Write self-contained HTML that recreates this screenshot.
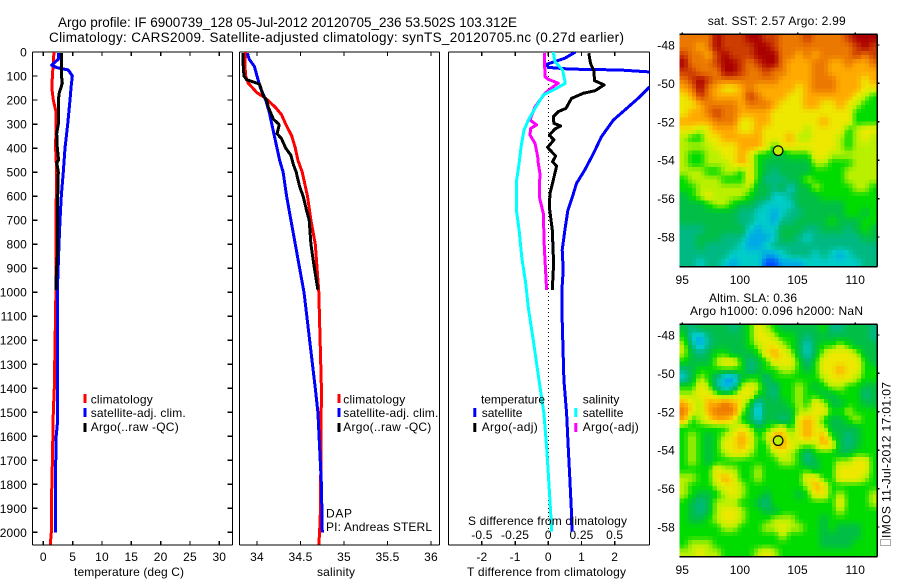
<!DOCTYPE html>
<html lang="en">
<head>
<meta charset="utf-8">
<title>Argo profile 6900739_128</title>
<style>
html,body{margin:0;padding:0;background:#fff;}
svg{display:block;}
text{font-family:"Liberation Sans",sans-serif;font-size:12px;fill:#000;letter-spacing:.15px;}
.t14{font-size:13.5px;letter-spacing:0;}
.lab{letter-spacing:0;}
</style>
</head>
<body>
<svg id="chart" xmlns="http://www.w3.org/2000/svg" width="900" height="580" viewBox="0 0 900 580">
  <defs>
    <clipPath id="clip1"><rect x="32.5" y="52" width="200" height="493"/></clipPath>
    <clipPath id="clip2"><rect x="239.5" y="52" width="200" height="493"/></clipPath>
    <clipPath id="clip3"><rect x="448.5" y="52" width="201" height="493"/></clipPath>
  </defs>

  <text class="t14" x="58" y="27" textLength="459" lengthAdjust="spacing">Argo profile: IF 6900739_128 05-Jul-2012 20120705_236 53.502S 103.312E</text>
  <text class="t14" x="49" y="42" textLength="575" lengthAdjust="spacing">Climatology: CARS2009. Satellite-adjusted climatology: synTS_20120705.nc (0.27d earlier)</text>

  <g id="map1"></g>
  <g id="map2"></g>
  <g id="axes"></g>
  <g id="series1" clip-path="url(#clip1)"></g>
  <g id="series2" clip-path="url(#clip2)"></g>
  <g id="series3" clip-path="url(#clip3)"></g>

  <text class="lab" x="74" y="576" textLength="110" lengthAdjust="spacing">temperature (deg C)</text>
  <text class="lab" x="317" y="576" textLength="38" lengthAdjust="spacing">salinity</text>
  <text class="lab" x="467" y="576" textLength="159" lengthAdjust="spacing">T difference from climatology</text>
  <text class="lab" x="468" y="525" textLength="159" lengthAdjust="spacing">S difference from climatology</text>

  <g>
    <rect x="83.5" y="394" width="3" height="9" fill="#f00"/>
    <rect x="83.5" y="408" width="3" height="9" fill="#00f"/>
    <rect x="83.5" y="423" width="3" height="9" fill="#000"/>
    <text class="lab" x="90.7" y="403.5" textLength="62" lengthAdjust="spacing">climatology</text>
    <text class="lab" x="90.7" y="417" textLength="95" lengthAdjust="spacing">satellite-adj. clim.</text>
    <text class="lab" x="90.7" y="431" textLength="88" lengthAdjust="spacing">Argo(..raw -QC)</text>
  </g>
  <g>
    <rect x="337.5" y="394" width="3" height="9" fill="#f00"/>
    <rect x="337.5" y="408" width="3" height="9" fill="#00f"/>
    <rect x="337.5" y="423" width="3" height="9" fill="#000"/>
    <text class="lab" x="343.3" y="403.5" textLength="62" lengthAdjust="spacing">climatology</text>
    <text class="lab" x="343.3" y="417" textLength="95" lengthAdjust="spacing">satellite-adj. clim.</text>
    <text class="lab" x="343.3" y="431" textLength="88" lengthAdjust="spacing">Argo(..raw -QC)</text>
  </g>
  <text class="lab" x="326" y="517.5" textLength="26" lengthAdjust="spacing">DAP</text>
  <text class="lab" x="326" y="531" textLength="106" lengthAdjust="spacing">PI: Andreas STERL</text>

  <g>
    <text class="lab" x="481" y="403.5" textLength="64" lengthAdjust="spacing">temperature</text>
    <rect x="473.3" y="408" width="3" height="9" fill="#00f"/>
    <text class="lab" x="481.7" y="417">satellite</text>
    <rect x="473.3" y="423" width="3" height="9" fill="#000"/>
    <text class="lab" x="481.7" y="431" textLength="56" lengthAdjust="spacing">Argo(-adj)</text>
    <text class="lab" x="582.7" y="403.5">salinity</text>
    <rect x="574.3" y="408" width="3" height="9" fill="#0ff"/>
    <text class="lab" x="582.7" y="417">satellite</text>
    <rect x="574.3" y="423" width="3" height="9" fill="#f0f"/>
    <text class="lab" x="582.7" y="431" textLength="56" lengthAdjust="spacing">Argo(-adj)</text>
  </g>

  <text class="lab" x="707.7" y="25" textLength="138" lengthAdjust="spacing">sat. SST: 2.57 Argo: 2.99</text>
  <text class="lab" x="709" y="302" textLength="88" lengthAdjust="spacing">Altim. SLA: 0.36</text>
  <text class="lab" x="690" y="315" textLength="173" lengthAdjust="spacing">Argo h1000: 0.096 h2000: NaN</text>

  <rect x="880.5" y="539.5" width="10" height="6" fill="none" stroke="#555" stroke-width="1" stroke-dasharray="1 1" shape-rendering="crispEdges"/>
  <text class="lab" transform="translate(890.5 538) rotate(-90)" x="0" y="0" textLength="156" lengthAdjust="spacing">IMOS 11-Jul-2012 17:01:07</text>
</svg>
<script>
/* ---------- tick data ---------- */
var depthTicks = [0,100,200,300,400,500,600,700,800,900,1000,1100,1200,1300,1400,1500,1600,1700,1800,1900,2000];
var tempTicks = [0,5,10,15,20,25,30];
var salTicks = [34,34.5,35,35.5,36];
var salTickLabels = ['34','34.5','35','35.5','36'];
var tDiffTicks = [-2,-1,0,1,2];
var sDiffTicks = [-0.5,-0.25,0,0.25,0.5];
var sDiffTickLabels = ['-0.5','-0.25','0','0.25','0.5'];
var lonTicks = [95,100,105,110];
var latTicks = [-48,-50,-52,-54,-56,-58];

/* ---------- temperature profiles ---------- */
var climDepth = [0,100,150,200,250,300,400,500,700,1000,1400,1500,1700,1900,2000,2050];
var climTemp = [1.82,1.55,1.45,1.7,2.16,2.16,2.1,2.28,2.15,2.15,1.88,1.7,1.55,1.37,1.37,1.2];
var satTempDepth = [5,30,55,65,75,100,150,200,300,400,500,600,700,800,1000,1400,1550,1600,1800,2000];
var satTemp = [2.56,2.56,1.43,2.28,4.26,4.94,4.72,4.55,4.16,3.7,3.41,3.07,2.85,2.68,2.39,2.39,2.39,2.2,2.05,2.05];
var argoTempDepth = [5,100,130,170,200,300,340,400,450,460,500,600,800,850,950,990];
var argoTemp = [3.13,3.1,3.24,2.73,2.56,2.56,2.28,2.39,2.6,2.28,2.56,2.45,2.45,2.39,2.16,2.16];

/* ---------- salinity profiles ---------- */
var climSalDepth = [0,50,100,130,170,190,230,260,300,350,400,450,500,600,700,800,1000,1400,1900,2000,2050];
var climSal = [33.87,33.86,33.87,33.9,34,34.09,34.21,34.28,34.33,34.4,34.44,34.47,34.52,34.58,34.62,34.67,34.71,34.74,34.73,34.72,34.71];
var satSalDepth = [5,30,60,100,150,200,250,300,350,400,450,500,600,700,800,900,1000,1400,1500,1800,2000];
var satSal = [33.89,33.91,33.97,34,34.04,34.1,34.14,34.17,34.2,34.23,34.26,34.3,34.34,34.39,34.44,34.49,34.54,34.67,34.7,34.74,34.75];
var argoSalDepth = [5,50,100,115,130,135,180,200,230,280,300,310,340,360,400,430,470,500,560,600,660,700,800,900,990];
var argoSal = [33.84,33.84,33.85,33.88,34,34.03,34.07,34.11,34.13,34.19,34.25,34.25,34.23,34.28,34.33,34.39,34.42,34.45,34.49,34.53,34.57,34.6,34.62,34.66,34.7];

/* ---------- difference profiles ---------- */
var satDiffTDepth = [0,26,40,51,64,71,75,83,100,130,147,186,235,283,353,422,491,547,602,658,741,824,908,991,1074,1366,1504,1643,1782,1920,1997];
var satDiffT = [0.82,0.5,0.2,-0.05,0,0.65,2.16,3.04,4.5,3.6,3.04,2.76,2.36,1.96,1.6,1.36,1.1,0.85,0.73,0.59,0.5,0.42,0.45,0.41,0.41,0.47,0.55,0.6,0.65,0.7,0.71];
var argoDiffTDepth = [5,47,82,119,137,161,172,193,235,248,269,297,308,321,346,366,397,433,457,475,533,589,644,741,880,991];
var argoDiffT = [1.22,1.27,1.38,1.39,1.68,1.41,1.05,0.7,0.53,0.3,0.15,0.17,0.37,0.2,0.03,0.17,-0.02,0.22,0.13,0.25,0.15,0.05,0.03,0.12,0.16,0.12];
var satDiffSDepth = [0,40,75,130,151,179,235,283,325,394,464,540,658,741,852,963,1067,1200,1366,1504,1643,1782,1920,1997];
var satDiffS = [0.038,0.05,0.108,0.128,0.063,-0.038,-0.1,-0.15,-0.183,-0.205,-0.22,-0.24,-0.24,-0.22,-0.2,-0.17,-0.15,-0.113,-0.07,-0.033,-0.013,0.003,0.018,0.025];
var argoDiffSDepth = [5,103,114,130,144,172,228,283,304,318,346,380,436,464,505,602,672,811,991];
var argoDiffS = [-0.03,-0.025,0,0.075,0.038,-0.025,-0.1,-0.138,-0.088,-0.133,-0.138,-0.1,-0.08,-0.075,-0.063,-0.068,-0.038,-0.03,-0.013];

/* ---------- map data (colour-level per cell, north to south) ---------- */
var sstLevels = [
[9,9,9,9,11,10,10,10,11,11,10,10,9,9,9,10,9,9,9,9,10,11,11,11],
[9,9,8,9,11,10,10,10,10,11,11,10,9,9,9,9,9,9,9,9,9,10,11,10],
[10,9,9,8,10,11,10,10,10,11,11,11,9,9,8,9,8,9,9,9,9,10,9,10],
[11,9,9,9,10,11,11,10,9,10,11,11,9,8,8,8,9,9,8,8,9,8,8,9],
[10,10,9,9,9,11,11,10,9,9,10,9,9,8,8,8,9,9,8,8,8,8,8,8],
[9,10,11,10,9,9,9,9,9,9,9,9,8,8,8,8,9,9,9,8,8,8,7,8],
[8,9,11,9,8,7,7,8,9,8,8,8,8,8,7,8,9,9,9,8,8,8,7,7],
[7,8,10,9,8,8,8,8,10,9,8,8,8,7,7,8,8,8,8,8,8,7,6,5],
[7,7,8,9,9,9,9,8,9,9,9,8,7,7,7,8,8,7,7,8,7,6,5,5],
[7,8,8,9,10,9,9,8,8,8,8,7,7,7,7,7,7,7,7,7,7,5,5,5],
[8,8,8,8,9,9,9,7,7,8,8,7,7,7,7,7,7,8,7,7,7,5,5,5],
[7,7,6,7,8,8,8,7,7,8,7,7,7,7,7,6,7,7,7,7,5,6,7,7],
[6,5,5,7,7,8,8,8,8,8,7,7,7,8,6,6,7,7,7,6,5,6,7,6],
[6,6,6,6,7,7,7,8,8,8,7,5,7,7,7,7,7,7,7,6,5,6,6,6],
[6,5,5,6,6,7,7,8,7,5,5,4,4,5,5,5,7,7,6,6,6,6,6,6],
[6,5,5,6,6,6,7,8,7,5,4,4,4,4,4,4,6,6,5,5,5,6,6,6],
[6,6,6,5,5,6,6,5,7,5,4,3,4,4,4,4,5,5,5,5,6,6,6,6],
[5,6,6,6,6,5,5,5,7,5,3,3,3,4,4,6,5,5,5,5,6,6,6,6],
[5,5,6,6,6,6,6,6,6,4,4,3,4,2,4,4,6,5,5,5,5,6,6,5],
[4,5,6,7,6,6,6,6,5,4,4,2,2,3,4,4,4,5,5,5,5,5,5,5],
[4,4,4,5,6,6,5,4,4,3,2,2,2,2,4,4,4,4,4,4,5,5,5,5],
[4,4,4,4,4,4,4,3,3,2,2,1,2,3,3,4,4,4,4,4,5,5,4,5],
[4,4,4,4,4,4,4,3,3,2,2,1,3,3,4,4,4,4,5,4,4,4,5,5],
[3,3,3,4,4,4,4,4,2,1,2,2,4,4,4,3,3,4,4,4,3,4,5,4],
[3,3,4,4,4,3,3,3,1,1,1,2,4,4,3,2,3,3,3,3,3,3,4,4],
[3,3,4,3,3,3,3,2,1,1,2,3,3,3,3,3,3,3,3,3,3,3,3,3],
[3,3,3,3,3,3,2,2,2,2,1,1,2,3,3,3,2,3,2,1,2,3,3,3],
[3,3,2,3,3,2,1,2,2,2,0,0,1,1,1,2,2,2,2,2,2,2,3,3]
];
var slaLevels = [
[4,3,4,4,4,4,3,4,5,7,6,5,4,4,4,4,4,5,3,3,4,4,4,3],
[5,2,1,3,4,4,4,4,5,7,7,6,5,5,4,3,4,4,4,4,4,4,4,3],
[6,3,1,3,4,4,4,4,5,6,7,7,6,5,4,2,4,5,5,6,5,4,4,4],
[6,4,3,4,5,5,4,4,4,5,7,8,7,6,4,2,4,6,7,7,7,6,4,4],
[5,4,4,4,6,7,7,5,3,4,5,7,7,7,5,3,5,7,7,7,7,7,5,4],
[3,4,5,5,5,5,5,5,3,4,5,5,6,6,5,4,5,7,7,8,7,7,5,5],
[2,4,6,5,3,1,0.6,4,5,5,3,5,5,5,5,5,5,6,7,7,7,6,5,5],
[5,5,7,6,3,1,2,6,7,6,4,3,5,5,6,5,4,5,6,6,5,5,4,4],
[6,6,7,7,6,5,6,7,7,5,4,3,5,5,6,5,5,4,4,5,5,5,3,4],
[8,7,6,8,8,9,8,7,5,2,4,4,4,5,6,5,7,6,4,4,5,5,4,4],
[9,7,6,8,9,9,9,6,4,1,4,4,4,4,6,6,7,7,5,5,6,5,5,5],
[8,5,6,7,8,8,7,5,4,2,4,4,3,4,7,8,7,5,4,4,5,6,5,5],
[5,5,5,5,5,5,6,7,6,4,5,6,7,5,7,8,7,6,4,4,4,4,5,5],
[5,6,5,4,5,6,7,8,7,5,6,8,8,6,7,8,7,8,5,4,3,4,5,5],
[5,6,5,4,5,7,7,8,7,5,5,8,8,7,6,6,6,8,7,4,3,4,5,5],
[5,6,5,4,5,6,7,7,6,5,5,6,7,6,5,3,5,5,5,4,4,5,5,5],
[5,6,5,4,5,5,5,5,5,5,5,5,6,6,5,3,4,5,5,6,6,7,7,5],
[5,5,5,5,7,6,6,5,5,6,5,5,5,5,5,5,4,5,5,7,7,7,7,5],
[6,6,5,5,7,8,7,5,5,6,5,5,5,5,5,7,7,5,5,7,7,7,6,5],
[6,5,5,5,6,7,7,6,5,5,5,5,5,5,5,6,8,7,5,5,5,5,5,5],
[6,5,4,4,5,6,7,6,5,5,4,5,5,5,4,5,7,7,5,6,5,5,5,6],
[5,4,3,4,6,6,6,5,5,4,3,5,5,5,5,5,5,5,5,7,5,5,5,6],
[5,4,3,4,6,7,7,6,5,5,4,4,5,5,5,5,5,5,5,6,5,5,5,5],
[5,4,4,5,6,7,7,6,5,5,5,6,6,6,5,5,5,4,5,5,5,5,5,5],
[5,5,5,5,5,6,6,5,5,5,6,6,7,6,6,5,5,4,5,4,4,4,5,5],
[5,5,5,5,5,5,5,5,5,5,5,5,6,5,5,5,5,4,4,4,4,4,5,5],
[5,6,6,6,5,5,5,5,5,5,5,5,5,5,5,5,5,4,4,4,4,5,5,5],
[6,6,7,6,6,5,5,5,5,6,7,6,5,5,5,5,5,5,5,5,5,5,5,5]
];
var floatLon = [103.312];
var floatLat = [-53.502];
var floatSstLevel = [6.2];
var floatSlaLevel = [6];

/* ---------- axis functions ---------- */
function yDepth(d){return 52+0.2402*d;}
function xTemp(t){return 43.3+5.867*t;}
function xSal(s){return 257+87*(s-34);}
function xDiffT(t){return 548.3+33.2*t;}
function xDiffS(s){return 548.3+132.8*s;}
function mapX(lon){return 682.3+11.53*(lon-95);}
function mapY(lat,top){return top+10.7+19.2*(-48-lat);}

var SVGNS='http://www.w3.org/2000/svg';
var PALETTE=[[0,80,255],[0,170,230],[0,205,200],[0,185,130],[0,190,70],[0,220,0],[185,240,0],[238,232,0],[255,170,0],[235,120,0],[205,60,0],[170,0,0]];
function levelColor(v){
  var i=Math.max(0,Math.min(PALETTE.length-1,v));
  var a=Math.floor(i),b=Math.min(PALETTE.length-1,a+1),f=i-a;
  var c=[0,1,2].map(function(k){return Math.round(PALETTE[a][k]+(PALETTE[b][k]-PALETTE[a][k])*f);});
  return 'rgb('+c.join(',')+')';
}
function make(tag,attrs,parent){
  var el=document.createElementNS(SVGNS,tag);
  for(var k in attrs){el.setAttribute(k,attrs[k]);}
  parent.appendChild(el);
  return el;
}
var axes=document.getElementById('axes');

function axisLine(x1,y1,x2,y2,name){
  var el=make('line',{x1:x1,y1:y1,x2:x2,y2:y2,stroke:'#000','stroke-width':1.4,'shape-rendering':'crispEdges'},axes);
  
  
  return el;
}
function label(x,y,str,anchor,name){
  var el=make('text',{x:x,y:y,'text-anchor':anchor},axes);
  el.textContent=str;
  
  
  return el;
}
function frame(l,r,t,b,name){
  axisLine(l,t,r,t,name+'-top-edge');
  axisLine(l,b,r,b,name+'-bottom-edge');
  axisLine(r,t,r,b,name+'-right-edge');
  axisLine(l,t,l,b,name+'-left-edge');
}
function profile(groupId,depths,values,colour,name,scale){
  var pts=depths.map(function(d,i){return scale(values[i]).toFixed(1)+','+yDepth(d).toFixed(1);}).join(' ');
  var el=make('polyline',{points:pts,fill:'none',stroke:colour,'stroke-width':3,'stroke-linejoin':'round','shape-rendering':'crispEdges'},document.getElementById(groupId));
  
  
}

/* panel frames */
frame(32.5,232.5,52,545,'temperature-panel');
frame(239.5,439.5,52,545,'salinity-panel');
frame(448.5,649.5,52,545,'difference-panel');

/* depth ticks and labels */
depthTicks.forEach(function(d){
  var y=yDepth(d);
  axisLine(32.5,y,37.5,y,'depth-tick-left');
  axisLine(227.5,y,232.5,y,'depth-tick-right');
  label(27,y+4.5,String(d),'end','depth-tick-label');
});
/* temperature ticks */
tempTicks.forEach(function(t){
  var x=xTemp(t);
  axisLine(x,52,x,56,'temperature-tick-top');
  axisLine(x,541,x,545,'temperature-tick-bottom');
  label(x,561,String(t),'middle','temperature-tick-label');
});
/* salinity ticks */
salTicks.forEach(function(s,i){
  var x=xSal(s);
  axisLine(x,52,x,56,'salinity-tick-top');
  axisLine(x,541,x,545,'salinity-tick-bottom');
  label(x,561,salTickLabels[i],'middle','salinity-tick-label');
});
/* difference ticks */
tDiffTicks.forEach(function(t){
  var x=xDiffT(t);
  axisLine(x,52,x,56,'t-difference-tick-top');
  axisLine(x,541,x,545,'t-difference-tick-bottom');
  label(x,561,String(t),'middle','t-difference-tick-label');
});
sDiffTicks.forEach(function(s,i){
  label(xDiffS(s),539,sDiffTickLabels[i],'middle','s-difference-tick-label');
});
/* zero reference */
(function(){
  var el=make('line',{x1:xDiffT(0),y1:52,x2:xDiffT(0),y2:yDepth(2000),stroke:'#000','stroke-width':1,'stroke-dasharray':'1 3','shape-rendering':'crispEdges'},document.getElementById('series3'));
  
  
})();

/* series */
profile('series1',climDepth,climTemp,'#f00','temperature-climatology-line',xTemp);
profile('series1',satTempDepth,satTemp,'#00f','temperature-satellite-line',xTemp);
profile('series1',argoTempDepth,argoTemp,'#000','temperature-argo-line',xTemp);
profile('series2',climSalDepth,climSal,'#f00','salinity-climatology-line',xSal);
profile('series2',satSalDepth,satSal,'#00f','salinity-satellite-line',xSal);
profile('series2',argoSalDepth,argoSal,'#000','salinity-argo-line',xSal);
profile('series3',satDiffTDepth,satDiffT,'#00f','t-difference-satellite-line',xDiffT);
profile('series3',argoDiffTDepth,argoDiffT,'#000','t-difference-argo-line',xDiffT);
profile('series3',argoDiffSDepth,argoDiffS,'#f0f','s-difference-argo-line',xDiffS);
profile('series3',satDiffSDepth,satDiffS,'#0ff','s-difference-satellite-line',xDiffS);

/* maps: each data cell is drawn as 2x2 sub-cells, bilinearly blended between neighbouring values */
function sampleLevel(levels,rf,cf){
  var rows=levels.length,cols=levels[0].length;
  rf=Math.max(0,Math.min(rows-1,rf));
  cf=Math.max(0,Math.min(cols-1,cf));
  var r0=Math.floor(rf),c0=Math.floor(cf);
  var r1=Math.min(rows-1,r0+1),c1=Math.min(cols-1,c0+1);
  var fr=rf-r0,fc=cf-c0;
  return (levels[r0][c0]*(1-fc)+levels[r0][c1]*fc)*(1-fr)+(levels[r1][c0]*(1-fc)+levels[r1][c1]*fc)*fr;
}
function drawMap(groupId,levels,top,name,markerLevel){
  var g=document.getElementById(groupId);
  var left=679.7,right=877.3,bottom=top+232.4;
  var rows=levels.length*2,cols=levels[0].length*2;
  var cw=(right-left)/cols,ch=(bottom-top)/rows;
  for(var r=0;r<rows;r++){
    for(var c=0;c<cols;c++){
      var v=sampleLevel(levels,(r+0.5)/2-0.5,(c+0.5)/2-0.5);
      var cell=make('rect',{x:(left+c*cw).toFixed(2),y:(top+r*ch).toFixed(2),width:(cw+0.4).toFixed(2),height:(ch+0.4).toFixed(2),fill:levelColor(v),'shape-rendering':'crispEdges'},g);
      
      
    }
  }
  function gLine(x1,y1,x2,y2,n){
    var el=make('line',{x1:x1,y1:y1,x2:x2,y2:y2,stroke:'#000','stroke-width':1.4,'shape-rendering':'crispEdges'},axes);
    
    
  }
  gLine(left,top,right,top,name+'-top-edge');
  gLine(left,bottom,right,bottom,name+'-bottom-edge');
  gLine(right,top,right,bottom,name+'-right-edge');
  lonTicks.forEach(function(lon){
    var x=mapX(lon);
    gLine(x,top-2,x,top,name+'-lon-tick-top');
    gLine(x,bottom,x,bottom+1,name+'-lon-tick-bottom');
    label(x,bottom+17.5,String(lon),'middle',name+'-lon-tick-label');
  });
  latTicks.forEach(function(lat){
    var y=mapY(lat,top);
    gLine(right,y,right+2,y,name+'-lat-tick');
    label(675,y+4.5,String(lat),'end',name+'-lat-tick-label');
  });
  var marker=make('circle',{cx:mapX(floatLon[0]),cy:mapY(floatLat[0],top),r:4.8,fill:levelColor(markerLevel),stroke:'#000','stroke-width':1.2},axes);
  
  
}
drawMap('map1',sstLevels,34.3,'sst-map',floatSstLevel[0]);
drawMap('map2',slaLevels,324.3,'sla-map',floatSlaLevel[0]);
</script>
</body>
</html>
